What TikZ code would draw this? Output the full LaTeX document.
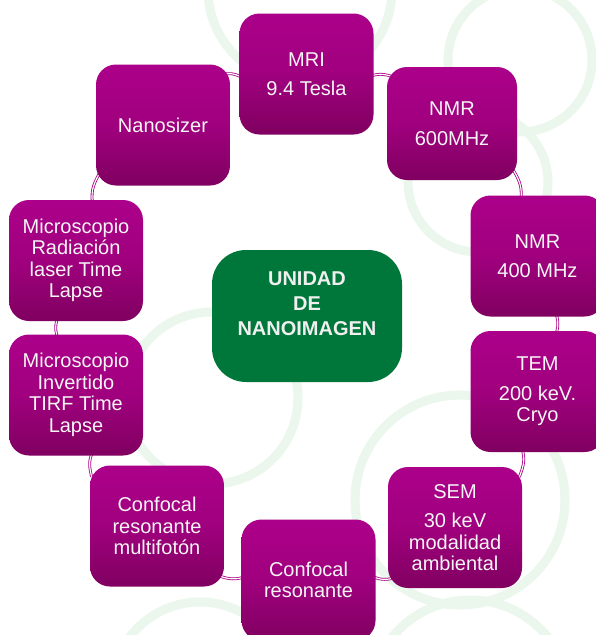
\documentclass[tikz,border=0pt]{standalone}
\usepackage{fontspec}
\setmainfont{Liberation Sans}
\usetikzlibrary{shadings}
\definecolor{mTop}{RGB}{172,0,138}
\definecolor{mMid}{RGB}{160,0,126}
\definecolor{mBot}{RGB}{128,0,96}
\definecolor{gBox}{RGB}{0,119,58}
\definecolor{ringc}{RGB}{235,247,237}
\definecolor{conn}{RGB}{168,0,132}
\pgfdeclarelayer{bg}
\pgfsetlayers{bg,main}
\tikzset{
  mbox/.style={rectangle, rounded corners=20pt, minimum width=134pt, minimum height=121pt,
    inner sep=0pt, top color=mTop, bottom color=mBot, middle color=mMid,
    text=white!96!black, align=center, font=\fontsize{20}{21.5}\selectfont},
  gbox/.style={rectangle, rounded corners=34pt, minimum width=190pt, minimum height=132pt,
    inner sep=0pt, fill=gBox, text=white!94!black, align=center,
    font=\bfseries\fontsize{20}{25}\selectfont, text depth=25pt},
  link/.style={draw=conn, double=white, double distance=1.2pt, line width=0.8pt,
    bend left=18, shorten <=-8pt, shorten >=-8pt},
  bgring/.style={draw=ringc, line width=9pt},
}
\begin{document}
\begin{tikzpicture}[x=1pt,y=1pt]
\useasboundingbox (0,0) rectangle (596,-635);
% boxes
\node[mbox] (mri) at (306.5,-74) {MRI\\[8pt]9.4 Tesla};
\node[mbox, minimum width=130pt, minimum height=113pt] (nmr6) at (452,-123.5) {NMR\\[8pt]600MHz};
\node[mbox] (nmr4) at (537.5,-256) {NMR\\[8pt]400 MHz};
\node[mbox] (tem) at (537.5,-391.5) {TEM\\[8pt]200 keV.\\Cryo};
\node[mbox] (sem) at (455,-527.5) {SEM\\[8pt]30 keV\\modalidad\\ambiental};
\node[mbox] (cres) at (308.5,-580) {Confocal\\resonante};
\node[mbox] (cmul) at (157,-526) {Confocal\\resonante\\multifotón};
\node[mbox] (minv) at (76,-395) {Microscopio\\Invertido\\TIRF Time\\Lapse};
\node[mbox] (mrad) at (76,-260.5) {Microscopio\\Radiación\\laser  Time\\Lapse};
\node[mbox] (nano) at (163,-125) {Nanosizer};
\node[gbox] (hub) at (307,-316) {UNIDAD\\DE\\NANOIMAGEN};
\begin{pgfonlayer}{bg}
  \fill[white] (0,0) rectangle (596,-635);
  \draw[bgring] (300,10) circle (92);
  \draw[bgring] (520,-60) circle (72);
  \draw[bgring] (478,-182) circle (70);
  \draw[bgring] (460,-500) circle (105);
  \draw[bgring] (212,-398) circle (86);
  \draw[bgring] (200,-690) circle (88);
  \draw[bgring] (470,-700) circle (100);
  \draw[link] (mri) to (nmr6);
  \draw[link] (nmr6) to (nmr4);
  \draw[link] (nmr4) to (tem);
  \draw[link] (tem) to (sem);
  \draw[link] (sem) to (cres);
  \draw[link] (cres) to (cmul);
  \draw[link] (cmul) to (minv);
  \draw[link] (minv) to (mrad);
  \draw[link] (mrad) to (nano);
  \draw[link] (nano) to (mri);
\end{pgfonlayer}
\end{tikzpicture}
\end{document}
